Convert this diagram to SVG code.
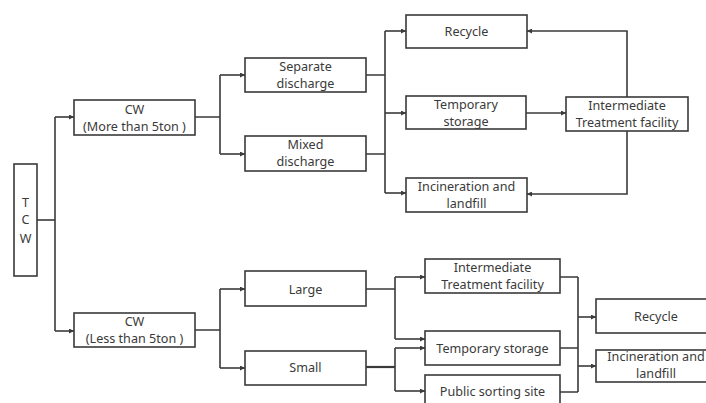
<svg xmlns="http://www.w3.org/2000/svg" width="706" height="403" viewBox="0 0 706 403">
<style>
.box{fill:#fff;stroke:#3a3a3a;stroke-width:1.6}
.t{font-family:"Noto Sans","Open Sans",sans-serif;font-size:12.6px;fill:#3a3a3a;text-anchor:middle}
.c{fill:none;stroke:#3a3a3a;stroke-width:1.6}
</style>
<defs>
<marker id="a" viewBox="0 0 6 6" refX="6" refY="3" markerWidth="5" markerHeight="5" markerUnits="userSpaceOnUse" orient="auto">
<path d="M0,0 L6,3 L0,6 z" fill="#3a3a3a"/>
</marker>
</defs>
<rect width="706" height="403" fill="#fff"/>
<g id="connectors">
<path class="c" d="M37,220 H55"/>
<path class="c" d="M55,117 V331"/>
<path class="c" d="M55,117 H74" marker-end="url(#a)"/>
<path class="c" d="M55,331 H74" marker-end="url(#a)"/>
<path class="c" d="M195,117 H220 M220,75 V154"/>
<path class="c" d="M220,75 H245" marker-end="url(#a)"/>
<path class="c" d="M220,154 H245" marker-end="url(#a)"/>
<path class="c" d="M366,75 H385 M366,154 H385 M385,31 V193"/>
<path class="c" d="M385,31 H406" marker-end="url(#a)"/>
<path class="c" d="M385,113 H406" marker-end="url(#a)"/>
<path class="c" d="M385,193 H406" marker-end="url(#a)"/>
<path class="c" d="M526,113 H566" marker-end="url(#a)"/>
<path class="c" d="M627,97 V31 H527" marker-end="url(#a)"/>
<path class="c" d="M627,131 V194 H527" marker-end="url(#a)"/>
<path class="c" d="M195,330 H220 M220,289 V368"/>
<path class="c" d="M220,289 H245" marker-end="url(#a)"/>
<path class="c" d="M220,368 H245" marker-end="url(#a)"/>
<path class="c" d="M366,289 H395 M395,277 V339"/>
<path class="c" d="M395,277 H425" marker-end="url(#a)"/>
<path class="c" d="M395,339 H425" marker-end="url(#a)"/>
<path class="c" d="M366,367 H395" style="stroke-width:2.2"/>
<path class="c" d="M395,348 V391"/>
<path class="c" d="M395,348 H425" marker-end="url(#a)"/>
<path class="c" d="M395,391 H425" marker-end="url(#a)"/>
<path class="c" d="M560,277 H578 M560,348 H578 M560,392 H578 M578,277 V392"/>
<path class="c" d="M578,317 H596" marker-end="url(#a)"/>
<path class="c" d="M578,366 H596" marker-end="url(#a)"/>
</g>
<g id="tcw"><rect class="box" x="14" y="164" width="23" height="112"/>
<text class="t" x="25.5" y="207">T</text><text class="t" x="25.5" y="224">C</text><text class="t" x="25.5" y="243">W</text></g>
<g id="cw-more"><rect class="box" x="74" y="100" width="121" height="35"/>
<text class="t" x="134.5" y="113.5">CW</text><text class="t" x="134.5" y="130.5">(More than 5ton )</text></g>
<g id="cw-less"><rect class="box" x="74" y="313" width="121" height="34"/>
<text class="t" x="134.5" y="326">CW</text><text class="t" x="134.5" y="343">(Less than 5ton )</text></g>
<g id="separate"><rect class="box" x="245" y="58" width="121" height="34"/>
<text class="t" x="305.5" y="71">Separate</text><text class="t" x="305.5" y="88">discharge</text></g>
<g id="mixed"><rect class="box" x="245" y="136" width="121" height="35"/>
<text class="t" x="305.5" y="148.5">Mixed</text><text class="t" x="305.5" y="166">discharge</text></g>
<g id="large"><rect class="box" x="245" y="271" width="121" height="35"/>
<text class="t" x="305.5" y="293.5">Large</text></g>
<g id="small"><rect class="box" x="245" y="351" width="121" height="34"/>
<text class="t" x="305.5" y="371.5">Small</text></g>
<g id="recycle1"><rect class="box" x="406" y="15" width="121" height="33"/>
<text class="t" x="466.5" y="35.5">Recycle</text></g>
<g id="temp1"><rect class="box" x="406" y="96" width="120" height="33"/>
<text class="t" x="466" y="108.5">Temporary</text><text class="t" x="466" y="125.5">storage</text></g>
<g id="incin1"><rect class="box" x="406" y="178" width="121" height="34"/>
<text class="t" x="466.5" y="190.5">Incineration and</text><text class="t" x="466.5" y="207.5">landfill</text></g>
<g id="itf1"><rect class="box" x="566" y="97" width="122" height="34"/>
<text class="t" x="627" y="109.5">Intermediate</text><text class="t" x="627" y="126.5">Treatment facility</text></g>
<g id="itf2"><rect class="box" x="425" y="259" width="135" height="34"/>
<text class="t" x="492.5" y="272">Intermediate</text><text class="t" x="492.5" y="289">Treatment facility</text></g>
<g id="temp2"><rect class="box" x="425" y="331" width="135" height="34"/>
<text class="t" x="492.5" y="352.5">Temporary storage</text></g>
<g id="public"><rect class="box" x="425" y="375" width="135" height="40"/>
<text class="t" x="492.5" y="395.5">Public sorting site</text></g>
<g id="recycle2"><rect class="box" x="596" y="299" width="121" height="34"/>
<text class="t" x="656" y="320.5">Recycle</text></g>
<g id="incin2"><rect class="box" x="596" y="350" width="121" height="32"/>
<text class="t" x="656" y="361">Incineration and</text><text class="t" x="656" y="378">landfill</text></g>
</svg>
